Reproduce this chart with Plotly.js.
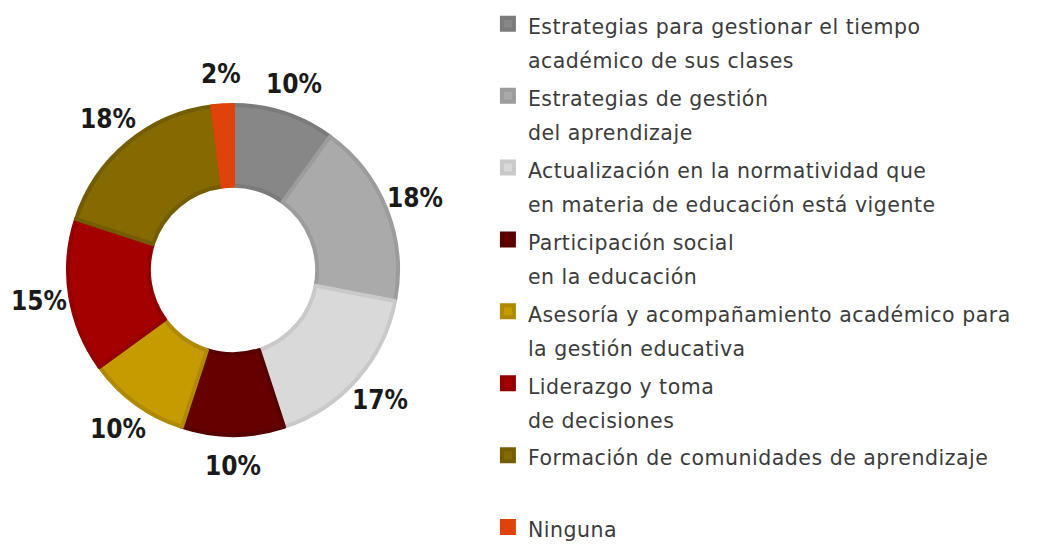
<!DOCTYPE html>
<html>
<head>
<meta charset="utf-8">
<script src="https://cdn.plot.ly/plotly-3.0.1.min.js"></script>
<style>html,body{margin:0;padding:0;background:#fff;}#chart{width:1057px;height:544px;}</style>
</head>
<body>
<div id="chart"></div>
<script>
const categories = [
  ["Estrategias para gestionar el tiempo", "académico de sus clases"],
  ["Estrategias de gestión", "del aprendizaje"],
  ["Actualización en la normatividad que", "en materia de educación está vigente"],
  ["Participación social", "en la educación"],
  ["Asesoría y acompañamiento académico para", "la gestión educativa"],
  ["Liderazgo y toma", "de decisiones"],
  ["Formación de comunidades de aprendizaje", ""],
  ["Ninguna"]
];
const values = [10, 18, 17, 10, 10, 15, 18, 2];
const percentLabels = ["10%", "18%", "17%", "10%", "10%", "15%", "18%", "2%"];
const sliceColors = ["#878787", "#aaaaaa", "#d9d9d9", "#660000", "#c59b00", "#a40000", "#846a00", "#e0420c"];
const borderColors = ["#7b7b7b", "#9c9c9c", "#c9c9c9", "#560000", "#b08900", "#920000", "#745d00", "#e0420c"];

const W = 1057, H = 544;
const cx = 233, cy = 270, R = 165, labelR = 196;

const span = s => "<span style='font-size:20.5px;letter-spacing:0.5px'>" + s + "</span>";
const labels = categories.map(lines => lines.map(l => span(l === "" ? " " : l)).join("<br>"));

const trace = {
  type: "pie",
  labels: labels,
  values: values,
  sort: false,
  direction: "clockwise",
  rotation: 0,
  hole: 0.51,
  domain: {x: [(cx - R) / W, (cx + R) / W], y: [(H - cy - R) / H, (H - cy + R) / H]},
  marker: {colors: sliceColors, line: {color: borderColors, width: 4}},
  textinfo: "none",
  automargin: false
};

// percentage labels placed at each slice's mid-angle, derived from the values
const total = values.reduce((a, b) => a + b, 0);
let cum = 0;
const annotations = values.map((v, i) => {
  const mid = (cum + v / 2) / total * 2 * Math.PI;
  cum += v;
  return {
    xref: "paper", yref: "paper",
    x: (cx + labelR * Math.sin(mid)) / W,
    y: (H - cy + labelR * Math.cos(mid)) / H,
    xanchor: "center", yanchor: "middle",
    text: percentLabels[i], showarrow: false,
    font: {family: "DejaVu Sans Condensed", size: 26, color: "#1a1a1a", weight: 700}
  };
});

const layout = {
  width: W, height: H,
  margin: {l: 0, r: 0, t: 0, b: 0},
  paper_bgcolor: "#ffffff",
  showlegend: true,
  annotations: annotations,
  legend: {
    x: 0.4616, y: 1.0, xanchor: "left", yanchor: "top",
    maxheight: 1,
    font: {family: "DejaVu Sans", size: 26.5, color: "#3c3c3c"},
    valign: "top",
    bgcolor: "rgba(0,0,0,0)"
  }
};

Plotly.newPlot("chart", [trace], layout, {displayModeBar: false, staticPlot: true});
</script>
</body>
</html>
